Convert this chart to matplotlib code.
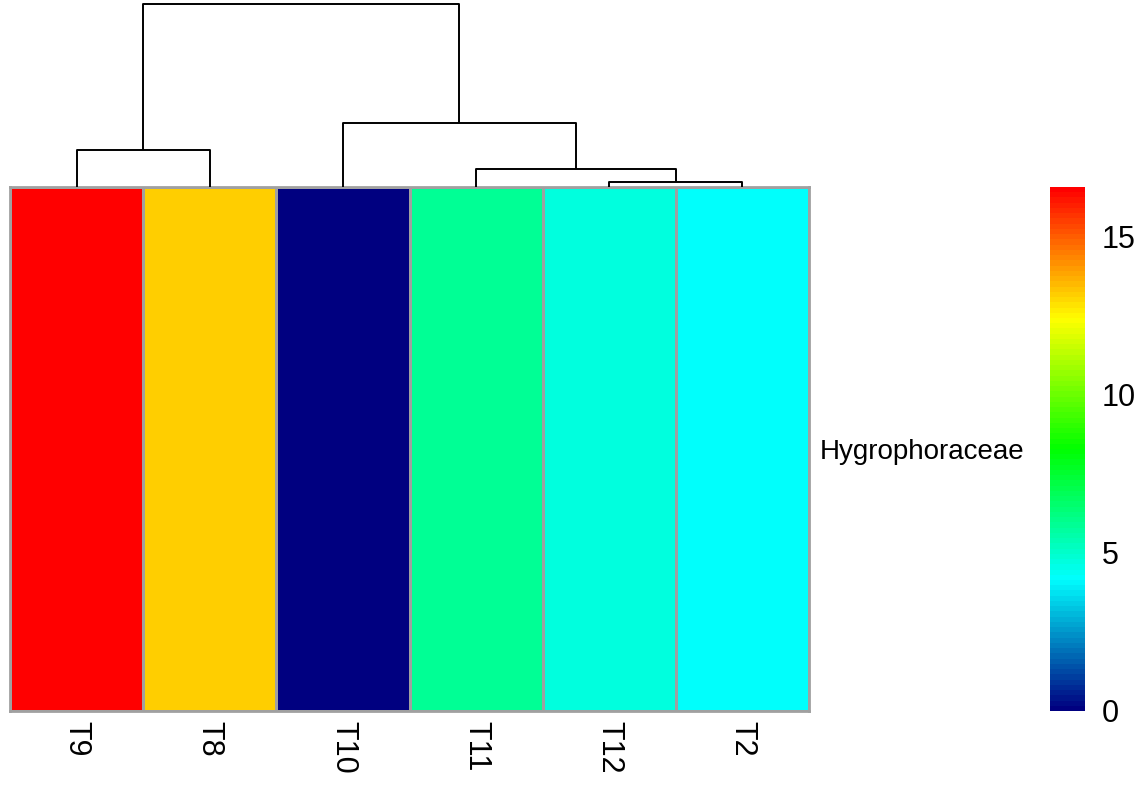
"""
    Single-row heatmap with column dendrogram (pheatmap style)
"""

import numpy as np
import matplotlib
matplotlib.use('Agg')
import matplotlib.pyplot as plt
from matplotlib.colors import LinearSegmentedColormap

plt.rcParams['font.family'] = ['Liberation Sans', 'DejaVu Sans']

# Data, columns already in dendrogram order
samples = ['T9', 'T8', 'T10', 'T11', 'T12', 'T2']
values = [16.58, 13.22, 0.0, 5.84, 4.65, 4.20]
row_label = 'Hygrophoraceae'
cbar_ticks = [0, 5, 10, 15]
palette = ['#000080', '#00FFFF', '#00FF00', '#FFFF00', '#FF0000']


def complete_linkage(vals):
    """Agglomerative clustering (complete linkage) returning merge segments"""
    clusters = [{'members': [i], 'x': i + 0.5, 'h': 0.0} for i in range(len(vals))]
    segments = []
    while len(clusters) > 1:
        best = None
        for a in range(len(clusters)):
            for b in range(a + 1, len(clusters)):
                d = max(abs(vals[i] - vals[j])
                        for i in clusters[a]['members'] for j in clusters[b]['members'])
                if best is None or d < best[0]:
                    best = (d, a, b)
        d, a, b = best
        ca, cb = clusters[a], clusters[b]
        segments.append(([ca['x'], ca['x'], cb['x'], cb['x']], [ca['h'], d, d, cb['h']]))
        new = {'members': ca['members'] + cb['members'],
               'x': (ca['x'] + cb['x']) / 2, 'h': d}
        clusters = [c for k, c in enumerate(clusters) if k not in (a, b)] + [new]
    return segments, clusters[0]['h']


W, H = 1142, 787
fig = plt.figure(figsize=(W / 100, H / 100), dpi=100)

hm_left, hm_right, hm_top, hm_bottom = 10, 809, 187, 711
ax = fig.add_axes([hm_left / W, 1 - hm_bottom / H,
                   (hm_right - hm_left) / W, (hm_bottom - hm_top) / H])
dax = fig.add_axes([hm_left / W, 1 - hm_top / H,
                    (hm_right - hm_left) / W, (hm_top - 4) / H])
cax = fig.add_axes([1050 / W, 1 - hm_bottom / H, 35 / W, (hm_bottom - hm_top) / H])

cmap = LinearSegmentedColormap.from_list('pal', palette, N=100)
data = np.array(values).reshape(1, -1)
mesh = ax.pcolormesh(data, cmap=cmap, vmin=min(values), vmax=max(values),
                     edgecolors='#A0A0A0', linewidth=2)
ax.set_xlim(0, len(samples))
ax.set_ylim(0, 1)
for s in ax.spines.values():
    s.set_color('#A0A0A0')
    s.set_linewidth(2)

ax.set_xticks(np.arange(len(samples)) + 0.5)
ax.set_xticklabels(samples, rotation=-90, fontsize=22)
ax.tick_params(axis='x', length=0, pad=7)
ax.set_yticks([0.5])
ax.set_yticklabels([row_label], fontsize=20)
ax.yaxis.tick_right()
ax.tick_params(axis='y', length=0, pad=8)

# Dendrogram
segments, top = complete_linkage(values)
for xs, ys in segments:
    dax.plot(xs, ys, color='black', lw=1.4, clip_on=False, solid_capstyle='butt')
dax.set_xlim(0, len(samples))
dax.set_ylim(0, top)
dax.axis('off')

# Colour key
cb = fig.colorbar(mesh, cax=cax, ticks=cbar_ticks)
cb.outline.set_visible(False)
cax.tick_params(length=0, pad=12, labelsize=22)

fig.savefig('out.png', dpi=100)
